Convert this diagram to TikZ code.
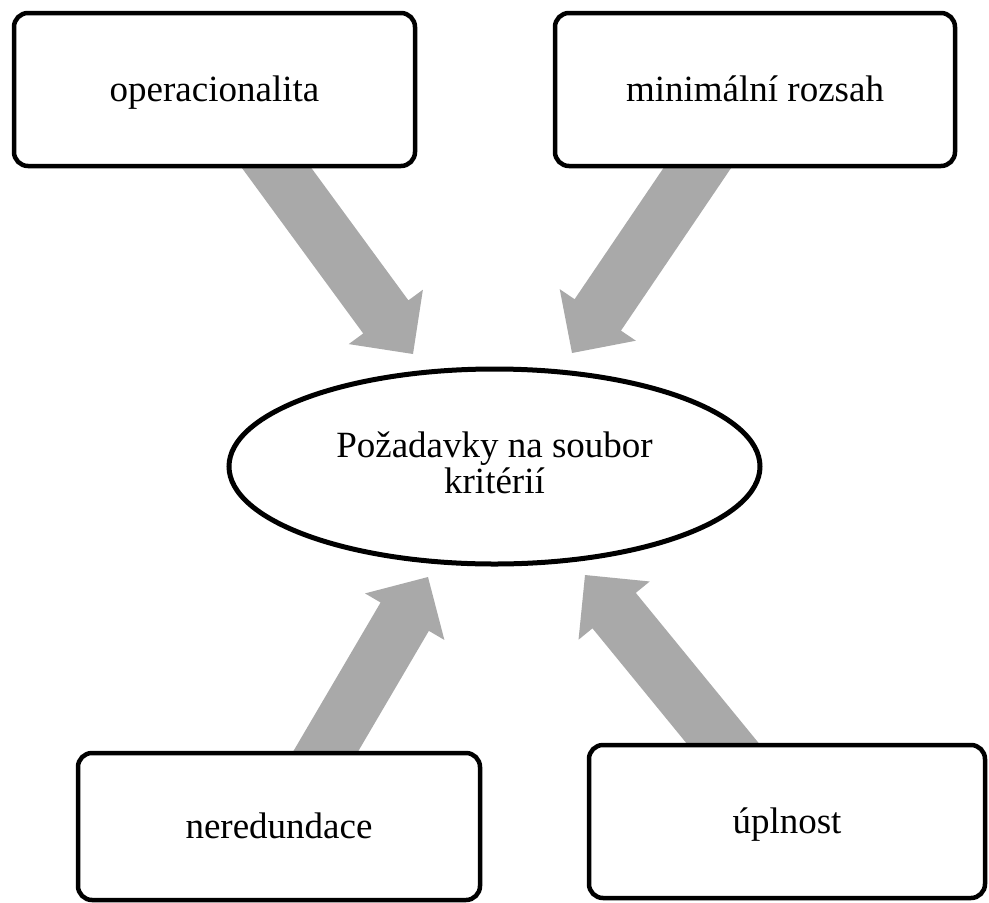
\documentclass[tikz,border=0pt]{standalone}
\usepackage{fontspec}
\setmainfont{Liberation Serif}
\usetikzlibrary{calc,shapes.geometric}
\definecolor{arrowgray}{RGB}{169,169,169}
\pgfdeclarelayer{background}
\pgfsetlayers{background,main}
\newcommand\blockarrow[2]{%
  \coordinate (#2base) at ($(#2)!46pt!(#1)$);
  \fill[flow] ($(#1)!28pt!90:(#2)$) -- ($(#2base)!28pt!90:(#2)$) -- ($(#2base)!46pt!90:(#2)$)
    -- (#2) -- ($(#2base)!46pt!-90:(#2)$) -- ($(#2base)!28pt!-90:(#2)$)
    -- ($(#1)!28pt!-90:(#2)$) -- cycle;}
\begin{document}
\begin{tikzpicture}[x=1pt,y=-1pt,
  box/.style={draw=black, line width=4.5pt, rounded corners=14pt, fill=white, inner sep=0pt,
    font=\fontsize{37}{44}\selectfont, text height=24pt, text depth=0pt},
  hub/.style={ellipse, draw=black, line width=5pt, fill=white, inner sep=0pt, align=center,
    font=\fontsize{37}{35.5}\selectfont, text height=60pt, text depth=7pt},
  flow/.style={fill=arrowgray}]
\useasboundingbox (0,0) rectangle (989,903);
\node[box, minimum width=401pt, minimum height=153pt] (op) at (214.5,89.5) {operacionalita};
\node[box, minimum width=400pt, minimum height=153pt] (mr) at (755,89.5) {minimální rozsah};
\node[box, minimum width=402pt, minimum height=147pt] (ne) at (279,826.5) {neredundace};
\node[box, minimum width=396pt, minimum height=153pt] (up) at (787,821.5) {úplnost};
\node[hub, minimum width=531pt, minimum height=195pt] (hub) at (494.5,466.5) {Požadavky na soubor\\kritérií};
\begin{pgfonlayer}{background}
\coordinate (s1) at (262,148);
\coordinate (t1) at (413,354);
\coordinate (s2) at (711.5,147);
\coordinate (t2) at (572,353);
\coordinate (s3) at (313,773);
\coordinate (t3) at (428,577);
\coordinate (s4) at (738,762);
\coordinate (t4) at (585,575);
\blockarrow{s1}{t1}
\blockarrow{s2}{t2}
\blockarrow{s3}{t3}
\blockarrow{s4}{t4}
\end{pgfonlayer}
\end{tikzpicture}
\end{document}
